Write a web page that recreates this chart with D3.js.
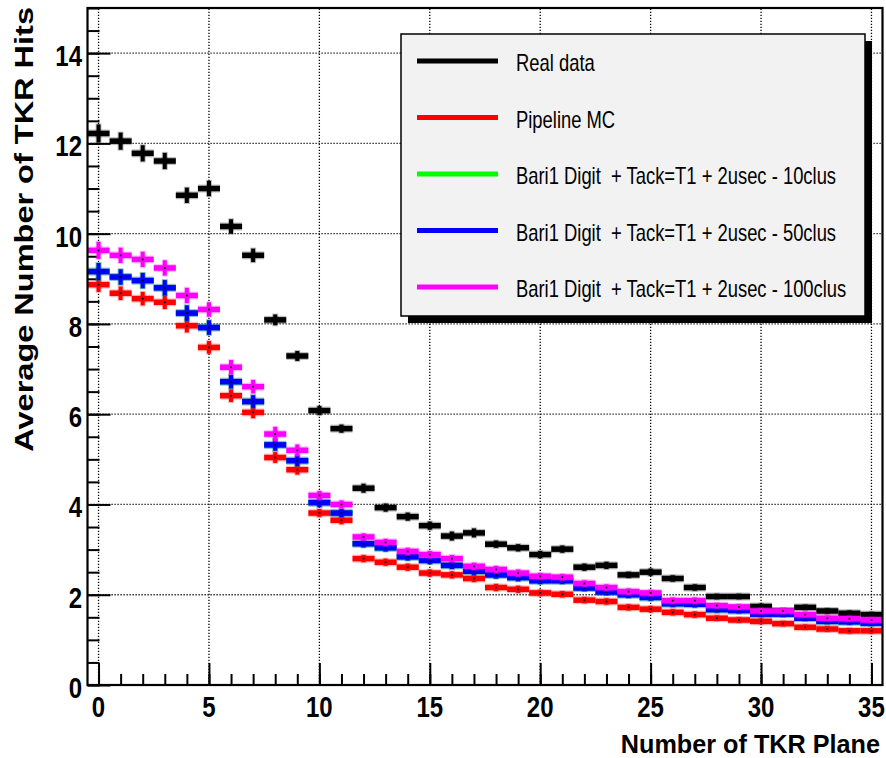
<!DOCTYPE html>
<html>
<head>
<meta charset="utf-8">
<script src="https://cdn.jsdelivr.net/npm/d3@7"></script>
<style>
  html, body { margin: 0; padding: 0; background: #fff; }
  text { font-family: "Liberation Sans", Arial, Helvetica, sans-serif; }
</style>
</head>
<body>
<svg id="chart" width="886" height="758"></svg>
<script>
// ---------------- data ----------------
const planes = [0,1,2,3,4,5,6,7,8,9,10,11,12,13,14,15,16,17,18,19,20,21,22,23,24,25,26,27,28,29,30,31,32,33,34,35];

const realData = [12.22,12.05,11.78,11.61,10.85,11.00,10.16,9.52,8.09,7.29,6.08,5.68,4.36,3.93,3.73,3.53,3.30,3.37,3.12,3.04,2.89,3.01,2.61,2.65,2.44,2.50,2.36,2.16,1.96,1.96,1.74,1.64,1.72,1.64,1.59,1.56];
const realErr  = [0.20,0.19,0.18,0.18,0.17,0.17,0.16,0.15,0.12,0.11,0.10,0.09,0.10,0.09,0.09,0.09,0.10,0.10,0.08,0.08,0.08,0.08,0.08,0.08,0.07,0.08,0.07,0.07,0.06,0.06,0.06,0.06,0.06,0.06,0.06,0.06];

const pipelineMC = [8.87,8.68,8.56,8.48,7.96,7.48,6.41,6.04,5.04,4.77,3.81,3.65,2.80,2.72,2.61,2.48,2.44,2.36,2.16,2.12,2.04,2.01,1.88,1.85,1.72,1.68,1.61,1.56,1.48,1.44,1.41,1.36,1.28,1.24,1.20,1.20];
const pipelineErr = [0.16,0.15,0.15,0.15,0.15,0.14,0.14,0.13,0.12,0.11,0.09,0.09,0.08,0.08,0.08,0.08,0.08,0.08,0.08,0.08,0.07,0.07,0.07,0.07,0.07,0.07,0.07,0.07,0.06,0.06,0.06,0.06,0.06,0.06,0.06,0.06];

const clus10 = [9.16,9.04,8.96,8.80,8.24,7.92,6.72,6.28,5.32,4.97,4.04,3.81,3.13,3.04,2.84,2.76,2.65,2.52,2.44,2.38,2.31,2.31,2.15,2.06,2.00,1.94,1.80,1.79,1.67,1.65,1.57,1.57,1.48,1.41,1.40,1.37];
const clus10Err = [0.19,0.17,0.17,0.17,0.17,0.16,0.15,0.14,0.13,0.12,0.10,0.09,0.08,0.08,0.08,0.08,0.08,0.08,0.08,0.08,0.07,0.07,0.07,0.07,0.07,0.07,0.07,0.07,0.06,0.06,0.06,0.06,0.06,0.06,0.06,0.06];

const clus50 = [9.16,9.04,8.96,8.80,8.24,7.92,6.72,6.28,5.32,4.97,4.04,3.81,3.13,3.04,2.84,2.76,2.65,2.52,2.44,2.38,2.31,2.31,2.15,2.06,2.00,1.94,1.80,1.79,1.67,1.65,1.57,1.57,1.48,1.41,1.40,1.37];
const clus50Err = [0.19,0.17,0.17,0.17,0.17,0.16,0.15,0.14,0.13,0.12,0.10,0.09,0.08,0.08,0.08,0.08,0.08,0.08,0.08,0.08,0.07,0.07,0.07,0.07,0.07,0.07,0.07,0.07,0.06,0.06,0.06,0.06,0.06,0.06,0.06,0.06];

const clus100 = [9.63,9.52,9.43,9.24,8.63,8.32,7.04,6.61,5.56,5.20,4.20,4.00,3.28,3.16,2.96,2.89,2.80,2.63,2.56,2.48,2.41,2.39,2.25,2.16,2.07,2.04,1.87,1.87,1.76,1.73,1.64,1.64,1.56,1.48,1.47,1.44];
const clus100Err = [0.19,0.17,0.17,0.17,0.17,0.16,0.16,0.15,0.16,0.13,0.10,0.09,0.08,0.08,0.08,0.08,0.08,0.08,0.08,0.08,0.07,0.07,0.07,0.07,0.07,0.07,0.07,0.07,0.06,0.06,0.06,0.06,0.06,0.06,0.06,0.06];

const seriesNames  = ["Real data", "Pipeline MC", "Bari1 Digit  + Tack=T1 + 2usec - 10clus", "Bari1 Digit  + Tack=T1 + 2usec - 50clus", "Bari1 Digit  + Tack=T1 + 2usec - 100clus"];
const seriesColors = ["#000000", "#ff0000", "#00ff00", "#0000ff", "#ff00ff"];
const seriesValues = [realData, pipelineMC, clus10, clus50, clus100];
const seriesErrors = [realErr, pipelineErr, clus10Err, clus50Err, clus100Err];

const xMajorTicks = [0,5,10,15,20,25,30,35];
const xMinorTicks = [0,1,2,3,4,5,6,7,8,9,10,11,12,13,14,15,16,17,18,19,20,21,22,23,24,25,26,27,28,29,30,31,32,33,34,35];
const yMajorTicks = [0,2,4,6,8,10,12,14];
const yMinorTicks = [0,0.5,1,1.5,2,2.5,3,3.5,4,4.5,5,5.5,6,6.5,7,7.5,8,8.5,9,9.5,10,10.5,11,11.5,12,12.5,13,13.5,14,14.5,15];

const xTitle = "Number of TKR Plane";
const yTitle = "Average Number of TKR Hits";

// ---------------- layout ----------------
const svg = d3.select("#chart");
const padL = 87.5, padR = 882.5, padT = 8, padB = 685;

const x = d3.scaleLinear().domain([-0.5, 35.5]).range([padL, padR]);
const y = d3.scaleLinear().domain([0, 15]).range([padB, padT]);

svg.append("rect").attr("width", 886).attr("height", 758).attr("fill", "#fff");

// grid
const grid = svg.append("g").attr("stroke", "#000").attr("stroke-width", 1.3).attr("stroke-dasharray", "1.2 1.8");
grid.selectAll(".gx").data(xMajorTicks).join("line")
  .attr("x1", d => x(d)).attr("x2", d => x(d)).attr("y1", y(0)).attr("y2", y(15));
grid.selectAll(".gy").data(yMajorTicks.filter(d => d > 0)).join("line")
  .attr("x1", x(-0.5)).attr("x2", x(35.5)).attr("y1", d => y(d)).attr("y2", d => y(d));

// axes ticks (pointing inside)
function styleAxis(g) {
  g.select(".domain").remove();
  g.selectAll(".tick line").attr("stroke", "#000").attr("stroke-width", 2);
  g.selectAll(".tick text").remove();
}
svg.append("g").attr("transform", `translate(0,${padB})`)
  .call(d3.axisBottom(x).tickValues(xMinorTicks).tickSize(-11).tickFormat("")).call(styleAxis);
svg.append("g").attr("transform", `translate(0,${padB})`)
  .call(d3.axisBottom(x).tickValues(xMajorTicks).tickSize(-22).tickFormat("")).call(styleAxis);
svg.append("g").attr("transform", `translate(${padL},0)`)
  .call(d3.axisLeft(y).tickValues(yMinorTicks).tickSize(-12).tickFormat("")).call(styleAxis);
svg.append("g").attr("transform", `translate(${padL},0)`)
  .call(d3.axisLeft(y).tickValues(yMajorTicks).tickSize(-23).tickFormat("")).call(styleAxis);

// tick labels
svg.selectAll(".xlab").data(xMajorTicks).join("text")
  .attr("transform", d => `translate(${x(d)},717) scale(0.8,1)`)
  .attr("text-anchor", "middle").attr("font-size", 30).attr("font-weight", "bold")
  .text(d => d);
svg.selectAll(".ylab").data(yMajorTicks).join("text")
  .attr("transform", d => `translate(82,${y(d) + 13}) scale(0.8,1)`)
  .attr("text-anchor", "end").attr("font-size", 30).attr("font-weight", "bold")
  .text(d => d);

// axis titles
svg.append("text")
  .attr("transform", `translate(880,753) scale(0.97,1)`)
  .attr("text-anchor", "end").attr("font-size", 26).attr("font-weight", "bold")
  .text(xTitle);
svg.append("text")
  .attr("transform", `translate(33,7) rotate(-90) scale(1.3,1)`)
  .attr("text-anchor", "end").attr("font-size", 25).attr("font-weight", "bold")
  .text(yTitle);

// data
seriesValues.forEach((vals, s) => {
  const col = seriesColors[s];
  const errs = seriesErrors[s];
  const g = svg.append("g");
  const pts = planes.map((p, i) => ({p, v: vals[i], e: errs[i]}));
  // halo
  g.selectAll(".hh").data(pts).join("line")
    .attr("x1", d => x(d.p - 0.5)).attr("x2", d => x(d.p + 0.5))
    .attr("y1", d => y(d.v)).attr("y2", d => y(d.v))
    .attr("stroke", col).attr("stroke-opacity", 0.25).attr("stroke-width", 8);
  g.selectAll(".vh").data(pts).join("line")
    .attr("x1", d => x(d.p)).attr("x2", d => x(d.p))
    .attr("y1", d => y(d.v - d.e) + 1).attr("y2", d => y(d.v + d.e) - 1)
    .attr("stroke", col).attr("stroke-opacity", 0.25).attr("stroke-width", 6);
  // main bars
  g.selectAll(".h").data(pts).join("line")
    .attr("x1", d => x(d.p - 0.5)).attr("x2", d => x(d.p + 0.5))
    .attr("y1", d => y(d.v)).attr("y2", d => y(d.v))
    .attr("stroke", col).attr("stroke-width", 5.5);
  g.selectAll(".v").data(pts).join("line")
    .attr("x1", d => x(d.p)).attr("x2", d => x(d.p))
    .attr("y1", d => y(d.v - d.e)).attr("y2", d => y(d.v + d.e))
    .attr("stroke", col).attr("stroke-width", 4);
  g.selectAll(".dot").data(pts).join("rect")
    .attr("x", d => x(d.p) - 0.9).attr("y", d => y(d.v) - 0.9)
    .attr("width", 1.8).attr("height", 1.8).attr("fill", "#000");
});

// frame
svg.append("rect").attr("x", padL).attr("y", padT)
  .attr("width", padR - padL).attr("height", padB - padT)
  .attr("fill", "none").attr("stroke", "#000").attr("stroke-width", 2.2);

// legend
const lg = svg.append("g");
lg.append("rect").attr("x", 408).attr("y", 41).attr("width", 464).attr("height", 282).attr("fill", "#000");
lg.append("rect").attr("x", 401).attr("y", 34).attr("width", 464).attr("height", 282)
  .attr("fill", "#f2f2f2").attr("stroke", "#000").attr("stroke-width", 1.5);
const legendY = d3.scaleLinear().domain([0, 4]).range([61, 287]);
seriesNames.forEach((name, i) => {
  lg.append("line").attr("x1", 417).attr("x2", 498)
    .attr("y1", legendY(i)).attr("y2", legendY(i))
    .attr("stroke", seriesColors[i]).attr("stroke-width", 5);
  lg.append("text")
    .attr("transform", `translate(516,${legendY(i) + 10}) scale(0.8,1)`)
    .attr("font-size", 23).attr("fill", "#000")
    .attr("xml:space", "preserve").style("white-space", "pre")
    .text(name);
});
</script>
</body>
</html>
